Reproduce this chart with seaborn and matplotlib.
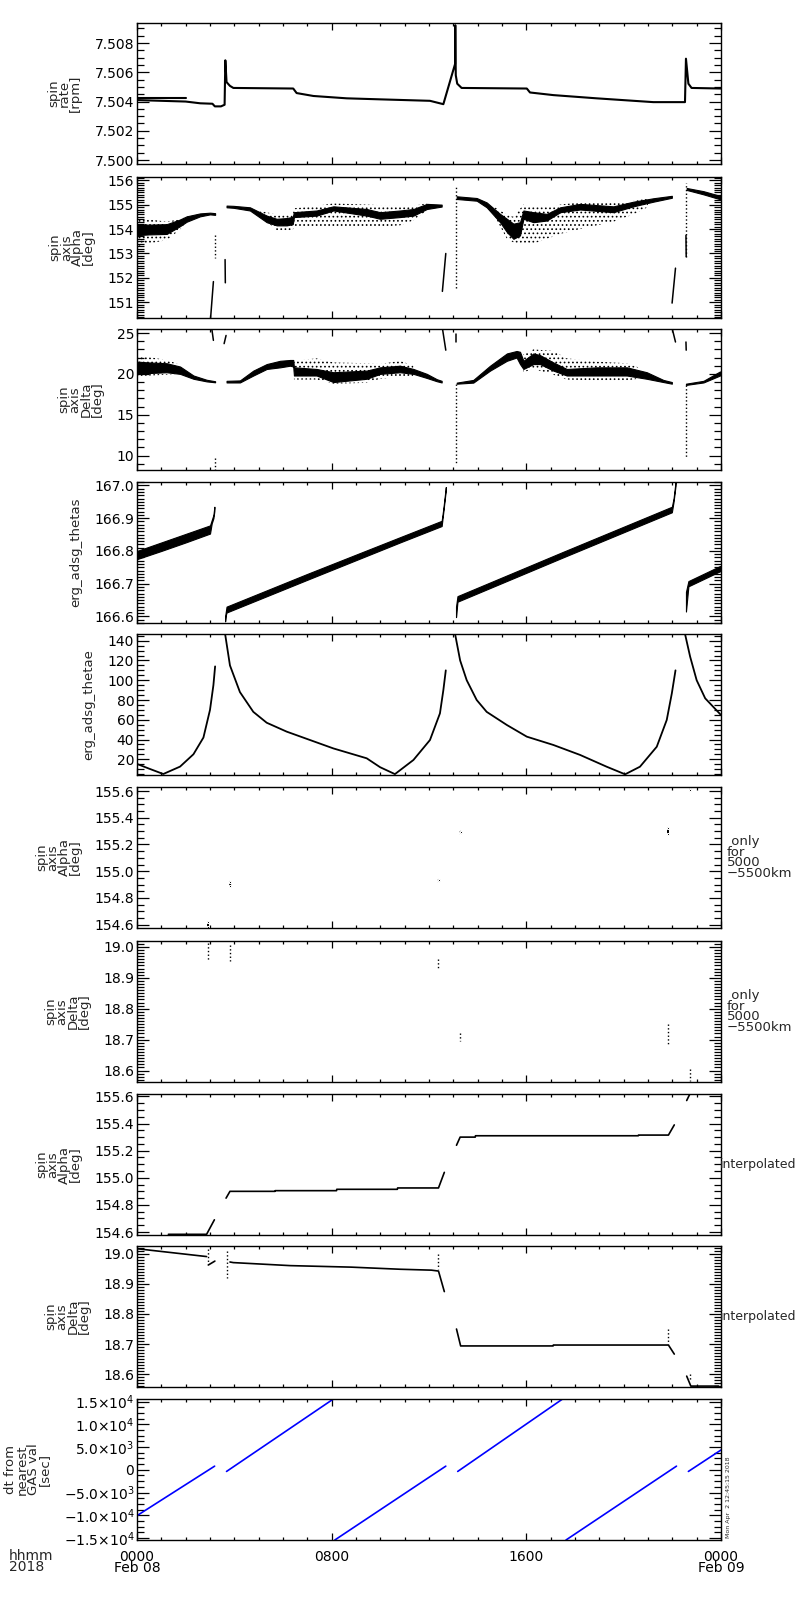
import numpy as np
import pandas as pd
import seaborn as sns
import matplotlib
matplotlib.use('Agg')
import matplotlib.pyplot as plt
from matplotlib.ticker import MultipleLocator, FixedLocator, FixedFormatter, FormatStrFormatter

sns.set_style('ticks')
plt.rcParams['font.family'] = ['DejaVu Sans']
plt.rcParams['hatch.linewidth'] = 0.7
plt.rcParams['hatch.color'] = 'black'

# ---- panel 1: spin rate [rpm] ----
rate_h = [0.0, 2.0, 2.6, 3.1, 3.2, 3.45, 3.6, 3.63, 3.68, 3.82, 3.96, 6.42, 6.56, 7.25, 8.62, 9.99,
          12.04, 12.59, 13.07, 13.08, 13.1, 13.16, 13.34, 16.02, 16.15, 17.11, 18.89, 21.22, 22.52,
          22.56, 22.66, 22.79, 24.0]
rate_v = [7.5041, 7.5040, 7.50388, 7.50385, 7.50367, 7.50367, 7.50378, 7.50682, 7.50533, 7.50507,
          7.50493, 7.50489, 7.50458, 7.50438, 7.50422, 7.50415, 7.50405, 7.50382, 7.50656, 7.50922,
          7.5058, 7.50522, 7.50493, 7.50489, 7.50462, 7.50444, 7.50422, 7.50396, 7.50396, 7.50693,
          7.50522, 7.50493, 7.50489]
rate_upper_h = [0.0, 2.0]
rate_upper_v = [7.50422, 7.50422]

# ---- panel 2: spin axis Alpha (dense core band + sparse scatter envelope) ----
alpha_h = [[0.0, 0.48, 1.22, 1.74, 2.04, 2.59, 3.0, 3.21],
           [3.68, 3.96, 4.64, 5.33, 5.74, 6.15, 6.4, 6.45, 7.38, 8.07, 9.44, 9.99, 10.81, 11.36, 11.91, 12.52],
           [13.14, 13.96, 14.37, 14.92, 15.2, 15.47, 15.74, 15.88, 16.29, 16.84, 17.39, 18.21, 19.58, 20.4, 21.22, 21.98],
           [22.59, 23.28, 23.96]]
alpha_lo = [[153.75, 153.78, 153.8, 154.1, 154.3, 154.52, 154.6, 154.58],
            [154.89, 154.87, 154.76, 154.28, 154.15, 154.15, 154.2, 154.49, 154.55, 154.76, 154.55, 154.42, 154.49, 154.55, 154.82, 154.92],
            [155.23, 155.16, 154.89, 154.28, 153.88, 153.6, 153.74, 154.42, 154.28, 154.35, 154.69, 154.8, 154.69, 154.93, 155.12, 155.28],
            [155.6, 155.42, 155.22]]
alpha_hi = [[154.2, 154.18, 154.2, 154.38, 154.52, 154.64, 154.67, 154.65],
            [154.96, 154.95, 154.89, 154.55, 154.42, 154.45, 154.5, 154.69, 154.76, 154.93, 154.82, 154.69, 154.76, 154.82, 155.03, 155.0],
            [155.34, 155.27, 155.09, 154.62, 154.42, 154.22, 154.28, 154.76, 154.69, 154.62, 154.89, 155.03, 154.93, 155.12, 155.26, 155.36],
            [155.68, 155.55, 155.36]]
alpha_sp_h = [[0.0, 0.48, 1.22, 1.74, 2.04, 2.3],
              [5.0, 5.74, 6.4, 6.45, 7.38, 8.07, 9.44, 10.81, 11.36, 11.91],
              [14.6, 15.2, 15.47, 15.88, 16.29, 16.84, 17.39, 18.21, 19.58, 20.4, 21.0]]
alpha_sp_lo = [[153.3, 153.4, 153.55, 153.95, 154.3, 154.45],
               [154.6, 153.95, 153.95, 154.1, 154.1, 154.05, 154.05, 154.15, 154.35, 154.75],
               [154.7, 153.6, 153.45, 153.4, 153.4, 153.6, 153.8, 154.0, 154.3, 154.6, 154.9]]
alpha_sp_hi = [[154.45, 154.4, 154.3, 154.4, 154.5, 154.55],
               [154.75, 154.6, 154.6, 154.85, 154.95, 155.05, 155.0, 154.95, 154.95, 155.05],
               [154.95, 154.6, 154.5, 155.0, 154.9, 154.9, 155.0, 155.1, 155.1, 155.15, 155.25]]
alpha_gap_h = [[3.02, 3.14], [3.62, 3.63], [12.55, 12.69], [21.99, 22.13], [22.56, 22.57]]
alpha_gap_v = [[150.3, 151.85], [152.75, 151.8], [151.45, 153.0], [150.97, 152.4], [153.74, 152.87]]
alpha_dot_h = [[3.21, 3.21], [13.11, 13.11], [22.56, 22.56]]
alpha_dot_v = [[153.75, 152.8], [151.6, 155.77], [152.87, 155.9]]

# ---- panel 3: spin axis Delta ----
delta_h = [[0.0, 0.48, 1.22, 1.77, 2.32, 2.86, 3.21],
           [3.68, 4.23, 4.78, 5.33, 5.88, 6.29, 6.42, 6.45, 7.38, 8.07, 9.44, 9.99, 10.81, 11.36, 11.91, 12.32, 12.52],
           [13.14, 13.82, 14.51, 15.2, 15.6, 15.74, 15.88, 16.29, 16.56, 17.11, 17.66, 18.89, 20.13, 20.95, 21.63, 21.98],
           [22.56, 23.28, 23.96]]
delta_lo = [[20.1, 20.1, 20.2, 20.0, 19.4, 19.08, 18.97],
            [18.95, 18.95, 19.8, 20.6, 20.8, 21.0, 20.9, 19.8, 19.8, 19.0, 19.4, 20.0, 20.2, 20.0, 19.5, 19.1, 18.95],
            [18.8, 18.93, 20.4, 21.6, 22.0, 21.2, 20.6, 21.2, 21.2, 20.4, 19.8, 19.8, 19.8, 19.4, 19.0, 18.8],
            [18.65, 18.95, 19.8]]
delta_hi = [[21.5, 21.4, 21.3, 20.9, 19.8, 19.28, 19.1],
            [19.15, 19.2, 20.4, 21.2, 21.6, 21.7, 21.7, 20.8, 20.6, 20.2, 20.4, 20.8, 21.0, 20.6, 20.0, 19.35, 19.15],
            [18.93, 19.26, 21.0, 22.5, 22.8, 22.7, 21.6, 22.5, 22.3, 21.4, 20.6, 20.8, 20.8, 20.2, 19.26, 19.0],
            [18.8, 19.15, 20.3]]
delta_sp_h = [[0.0, 0.6, 1.22, 1.7],
              [6.45, 7.38, 8.07, 9.44, 9.99, 10.81, 11.36],
              [15.88, 16.29, 17.11, 17.66, 18.89, 20.13, 20.6]]
delta_sp_lo = [[19.7, 19.8, 19.9, 20.0],
               [19.3, 19.3, 18.8, 18.9, 19.4, 19.6, 19.6],
               [20.2, 20.6, 19.9, 19.3, 19.2, 19.2, 19.4]]
delta_sp_hi = [[22.2, 22.0, 21.7, 21.2],
               [21.6, 21.9, 21.4, 21.3, 21.2, 21.6, 21.0],
               [22.4, 23.0, 22.8, 21.9, 21.5, 21.3, 20.8]]
delta_gap_h = [[3.07, 3.14], [3.58, 3.66], [12.55, 12.69], [13.11, 13.11], [21.99, 22.13], [22.56, 22.57]]
delta_gap_v = [[25.6, 24.1], [23.7, 24.7], [25.6, 22.9], [24.9, 23.9], [25.6, 23.9], [23.9, 22.9]]
delta_dot_h = [[3.21, 3.21], [13.11, 13.11], [22.56, 22.56]]
delta_dot_v = [[9.7, 8.2], [18.8, 8.9], [18.7, 9.75]]

# ---- panel 4: erg_adsg_thetas ----
thetas_h = [[0.0, 1.0, 2.0, 3.0, 3.07, 3.14, 3.18],
            [3.62, 3.66, 3.68, 7.0, 10.81, 12.52, 12.59, 12.69],
            [13.11, 13.17, 17.5, 21.98, 22.05, 22.13],
            [22.56, 22.66, 23.96]]
thetas_lo = [[166.775, 166.8, 166.826, 166.853, 166.884, 166.9, 166.922],
             [166.585, 166.607, 166.612, 166.712, 166.826, 166.876, 166.92, 166.985],
             [166.598, 166.645, 166.78, 166.918, 166.95, 166.998],
             [166.615, 166.692, 166.738]]
thetas_hi = [[166.8, 166.826, 166.852, 166.878, 166.894, 166.91, 166.935],
             [166.6, 166.62, 166.63, 166.73, 166.842, 166.892, 166.93, 166.995],
             [166.63, 166.662, 166.797, 166.935, 166.96, 167.01],
             [166.675, 166.708, 166.754]]

# ---- panel 5: erg_adsg_thetae ----
thetae_h = [[0.0, 0.5, 1.08, 1.77, 2.32, 2.73, 3.0, 3.14, 3.21],
            [3.62, 3.82, 4.23, 4.78, 5.33, 6.15, 8.07, 9.44, 9.99, 10.6, 11.36, 12.04, 12.45, 12.59, 12.69],
            [13.07, 13.28, 13.55, 13.96, 14.37, 15.2, 16.02, 17.11, 18.21, 19.3, 20.06, 20.67, 21.36, 21.77, 21.98, 22.13],
            [22.52, 22.73, 23.0, 23.35, 24.0]]
thetae_v = [[15.3, 10.5, 5.1, 12.6, 25.1, 42, 70, 95, 114],
            [147, 115, 88, 68, 57, 48, 31, 21, 12, 5, 19.3, 39.5, 66.5, 90, 110],
            [147, 120, 100, 80, 68, 54.7, 42.9, 34.5, 24.4, 12.5, 4.8, 12.5, 32.7, 59.8, 86.8, 110],
            [147, 124, 100, 81.7, 64.8]]

# ---- panel 6: spin axis Alpha, only 5000-5500 km ----
alpha_alt_h = [[2.93, 2.93], [3.82, 3.83], [12.39, 12.4], [13.28, 13.3], [21.84, 21.84], [22.73, 22.74]]
alpha_alt_v = [[154.585, 154.62], [154.92, 154.89], [154.925, 154.935], [155.285, 155.295], [155.28, 155.32], [155.61, 155.63]]

# ---- panel 7: spin axis Delta, only 5000-5500 km ----
delta_alt_h = [[2.93, 2.93], [3.82, 3.82], [12.39, 12.39], [13.28, 13.28], [21.84, 21.84], [22.73, 22.73]]
delta_alt_v = [[19.014, 18.959], [19.005, 18.955], [18.962, 18.93], [18.723, 18.696], [18.75, 18.685], [18.604, 18.566]]

# ---- panel 8: spin axis Alpha, interpolated ----
alpha_int_h = [[1.29, 2.86, 3.18],
               [3.66, 3.82, 5.67, 5.68, 8.2, 8.21, 10.7, 10.71, 12.39, 12.63],
               [13.13, 13.28, 13.9, 13.91, 20.6, 20.61, 21.84, 22.08],
               [22.59, 22.78]]
alpha_int_v = [[154.583, 154.583, 154.69],
               [154.85, 154.90, 154.90, 154.905, 154.905, 154.915, 154.915, 154.925, 154.925, 155.04],
               [155.24, 155.30, 155.30, 155.31, 155.31, 155.315, 155.315, 155.39],
               [155.57, 155.64]]

# ---- panel 9: spin axis Delta, interpolated ----
delta_int_h = [[0.0, 2.86], [2.93, 3.2],
               [3.82, 3.96, 6.3, 8.8, 10.81, 12.1, 12.39, 12.63],
               [13.13, 13.3, 17.1, 17.11, 21.84, 22.08],
               [22.59, 22.76, 23.9]]
delta_int_v = [[19.016, 18.99], [18.962, 18.975],
               [18.972, 18.97, 18.96, 18.955, 18.948, 18.945, 18.942, 18.874],
               [18.75, 18.694, 18.694, 18.697, 18.697, 18.667],
               [18.594, 18.561, 18.561]]
delta_int_dot_h = [[2.93, 2.93], [3.7, 3.7], [12.39, 12.39], [21.84, 21.84], [22.73, 22.73]]
delta_int_dot_v = [[19.016, 18.965], [19.01, 18.92], [19.0, 18.95], [18.75, 18.70], [18.60, 18.58]]

# ---- panel 10: dt from nearest GAS val [sec] ----
dt_h = [[0.0, 3.19], [3.68, 8.07], [8.13, 12.69], [13.18, 17.49], [17.63, 22.17], [22.66, 24.0]]
dt_v = [[-10070, 800], [-360, 15550], [-15420, 800], [-360, 15550], [-15420, 800], [-360, 4350]]
dt_ticks = [-15000, -10000, -5000, 0, 5000, 10000, 15000]
dt_labels = ['\u22121.5\u00d710$^{4}$', '\u22121.0\u00d710$^{4}$', '\u22125.0\u00d710$^{3}$', '0',
             '5.0\u00d710$^{3}$', '1.0\u00d710$^{4}$', '1.5\u00d710$^{4}$']

time_ticks = [0, 8, 16, 24]
time_labels = ['0000\nFeb 08', '0800', '1600', '0000\nFeb 09']


def seg_frame(hs, vs):
    rows = []
    for i, (h, v) in enumerate(zip(hs, vs)):
        for a, b in zip(h, v):
            rows.append((i, a, b))
    return pd.DataFrame(rows, columns=['seg', 'hour', 'val'])


def draw_lines(ax, hs, vs, color='black', lw=1.2, **kw):
    df = seg_frame(hs, vs)
    sns.lineplot(data=df, x='hour', y='val', units='seg', estimator=None, sort=False,
                 color=color, lw=lw, ax=ax, legend=False, **kw)


def draw_band(ax, hs, los, his, sp_h=None, sp_lo=None, sp_hi=None):
    # sparse scatter envelope as stipple, dense core as solid
    if sp_h is not None:
        for h, lo, hi in zip(sp_h, sp_lo, sp_hi):
            ax.fill_between(h, lo, hi, facecolor='none', edgecolor='black', hatch='....', lw=0)
    for h, lo, hi in zip(hs, los, his):
        ax.fill_between(h, lo, hi, color='black', lw=0.8)


def style(ax, ylim, major, minor, fmt):
    ax.set_xlim(0, 24)
    ax.set_ylim(*ylim)
    ax.xaxis.set_major_locator(FixedLocator(time_ticks))
    ax.xaxis.set_minor_locator(MultipleLocator(1))
    if major is not None:
        ax.yaxis.set_major_locator(MultipleLocator(major))
        ax.yaxis.set_major_formatter(FormatStrFormatter(fmt))
    ax.yaxis.set_minor_locator(MultipleLocator(minor))
    ax.tick_params(axis='both', which='both', direction='in', top=True, right=True,
                   colors='black', width=0.9)
    ax.tick_params(axis='y', which='major', length=8.5, pad=2, labelsize=10)
    ax.tick_params(axis='y', which='minor', length=5)
    ax.tick_params(axis='x', which='major', length=5, pad=7, labelsize=10)
    ax.tick_params(axis='x', which='minor', length=2.5)
    ax.tick_params(axis='x', labelbottom=False)
    for s in ax.spines.values():
        s.set_visible(True)
        s.set_linewidth(1.0)
        s.set_color('black')
    ax.set_xlabel('')


def ylab(ax, text):
    ax.set_ylabel(text, fontsize=9.5, linespacing=0.82, labelpad=9)


fig = plt.figure(figsize=(8, 16), dpi=100)
tops = [23, 177, 329, 482, 634, 787, 941, 1094, 1246, 1399]
axes = [fig.add_axes([137 / 800, 1 - (t + 141) / 1600, 584 / 800, 141 / 1600]) for t in tops]

# 1
ax = axes[0]
draw_lines(ax, [rate_h, rate_upper_h], [rate_v, rate_upper_v], lw=1.5)
style(ax, (7.49973, 7.50937), 0.002, 0.0005, '%.3f')
ylab(ax, 'spin\nrate\n[rpm]')

# 2
ax = axes[1]
draw_band(ax, alpha_h, alpha_lo, alpha_hi, alpha_sp_h, alpha_sp_lo, alpha_sp_hi)
draw_lines(ax, alpha_gap_h, alpha_gap_v, lw=1.1)
draw_lines(ax, alpha_dot_h, alpha_dot_v, lw=1.0, linestyle=':')
style(ax, (150.36, 156.13), 1, 0.1, '%d')
ylab(ax, 'spin\naxis\nAlpha\n[deg]')

# 3
ax = axes[2]
draw_band(ax, delta_h, delta_lo, delta_hi, delta_sp_h, delta_sp_lo, delta_sp_hi)
draw_lines(ax, delta_gap_h, delta_gap_v, lw=1.1)
draw_lines(ax, delta_dot_h, delta_dot_v, lw=1.0, linestyle=':')
style(ax, (8.24, 25.49), 5, 1, '%d')
ylab(ax, 'spin\naxis\nDelta\n[deg]')

# 4
ax = axes[3]
draw_band(ax, thetas_h, thetas_lo, thetas_hi)
style(ax, (166.58, 167.0105), 0.1, 0.01, '%.1f')
ylab(ax, 'erg_adsg_thetas')

# 5
ax = axes[4]
draw_lines(ax, thetae_h, thetae_v, lw=1.3)
style(ax, (4.1, 146.8), 20, 5, '%d')
ylab(ax, 'erg_adsg_thetae')

# 6
ax = axes[5]
draw_lines(ax, alpha_alt_h, alpha_alt_v, lw=1.4, marker='s', markersize=1.5)
style(ax, (154.575, 155.63), 0.2, 0.05, '%.1f')
ylab(ax, 'spin\naxis\nAlpha\n[deg]')
ax.text(1.0103, 0.5, ' only\nfor\n5000\n\u22125500km', transform=ax.transAxes,
        ha='left', va='center', fontsize=9.5, linespacing=0.75)

# 7
ax = axes[6]
draw_lines(ax, delta_alt_h, delta_alt_v, lw=1.0, linestyle=':')
style(ax, (18.563, 19.019), 0.1, 0.01, '%.1f')
ylab(ax, 'spin\naxis\nDelta\n[deg]')
ax.text(1.0103, 0.5, ' only\nfor\n5000\n\u22125500km', transform=ax.transAxes,
        ha='left', va='center', fontsize=9.5, linespacing=0.75)

# 8
ax = axes[7]
draw_lines(ax, alpha_int_h, alpha_int_v, lw=1.2)
style(ax, (154.578, 155.618), 0.2, 0.05, '%.1f')
ylab(ax, 'spin\naxis\nAlpha\n[deg]')
ax.text(0.9974, 0.5, 'interpolated', transform=ax.transAxes,
        ha='left', va='center', fontsize=9)

# 9
ax = axes[8]
draw_lines(ax, delta_int_h, delta_int_v, lw=1.2)
draw_lines(ax, delta_int_dot_h, delta_int_dot_v, lw=1.0, linestyle=':')
style(ax, (18.558, 19.025), 0.1, 0.01, '%.1f')
ylab(ax, 'spin\naxis\nDelta\n[deg]')
ax.text(0.9974, 0.5, 'interpolated', transform=ax.transAxes,
        ha='left', va='center', fontsize=9)

# 10
ax = axes[9]
draw_lines(ax, dt_h, dt_v, color='#0000ff', lw=1.2)
style(ax, (-15420, 15550), None, 1250, None)
ax.yaxis.set_major_locator(FixedLocator(dt_ticks))
ax.yaxis.set_major_formatter(FixedFormatter(dt_labels))
ylab(ax, 'dt from\nnearest\nGAS val\n[sec]')
ax.tick_params(axis='x', labelbottom=True)
ax.set_xticks(time_ticks)
ax.set_xticklabels(time_labels)
for t in ax.get_xticklabels():
    t.set_linespacing(0.75)

fig.text(9 / 800, 1 - 1549 / 1600, 'hhmm\n2018', ha='left', va='top', fontsize=10, linespacing=0.75)
fig.text(726 / 800, 1 - 1538 / 1600, 'Mon Apr  2 12:45:15 2018', rotation=90,
         ha='left', va='bottom', fontsize=4.5)

fig.savefig('out.png', dpi=100)
